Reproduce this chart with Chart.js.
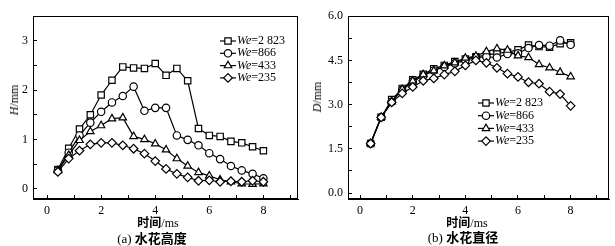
<!DOCTYPE html>
<html>
<head>
<meta charset="utf-8">
<script src="https://cdn.jsdelivr.net/npm/chart.js@4.4.1/dist/chart.umd.min.js"></script>
<style>
  body { margin: 0; background: #fff; width: 615px; height: 246px; overflow: hidden; position: relative; font-family: 'Liberation Serif', serif; }
  canvas { position: absolute; top: 0; }
  .lbl { position: absolute; font-size: 12px; color: #000; white-space: nowrap; line-height: 1; transform: translate(-50%, -50%); }
  .rot { transform: translate(-50%, -50%) rotate(-90deg); }
  .zh { font-family: 'Noto Sans CJK SC', sans-serif; font-weight: bold; }
  .cap { font-size: 13px; }
</style>
</head>
<body>
<canvas id="chartAltura" width="307" height="246" style="left:0"></canvas>
<canvas id="chartDiametro" width="308" height="246" style="left:307px"></canvas>

<div class="lbl rot" style="left:14px;top:100px"><i>H</i>/mm</div>
<div class="lbl" style="left:158px;top:222px"><span class="zh">时间</span>/ms</div>
<div class="lbl cap" style="left:152px;top:238px">(a) <span class="zh">水花高度</span></div>

<div class="lbl rot" style="left:317px;top:97px"><i>D</i>/mm</div>
<div class="lbl" style="left:467px;top:222px"><span class="zh">时间</span>/ms</div>
<div class="lbl cap" style="left:463px;top:237px">(b) <span class="zh">水花直径</span></div>

<script>
// tempos de amostragem (ms)
const tempos = [0.4, 0.8, 1.2, 1.6, 2.0, 2.4, 2.8, 3.2, 3.6, 4.0, 4.4, 4.8, 5.2, 5.6, 6.0, 6.4, 6.8, 7.2, 7.6, 8.0];
const weLabels = ['2 823', '866', '433', '235'];

// (a) altura H (mm)
const alturaWe2823 = [0.39, 0.82, 1.21, 1.50, 1.90, 2.20, 2.47, 2.45, 2.44, 2.54, 2.30, 2.44, 2.19, 1.22, 1.08, 1.06, 0.96, 0.93, 0.85, 0.77];
const alturaWe866 = [0.37, 0.73, 1.08, 1.34, 1.56, 1.75, 1.88, 2.07, 1.58, 1.64, 1.64, 1.08, 0.99, 0.88, 0.72, 0.60, 0.46, 0.37, 0.30, 0.21];
const alturaWe433 = [0.37, 0.68, 0.98, 1.16, 1.28, 1.42, 1.44, 1.06, 1.00, 0.91, 0.79, 0.61, 0.46, 0.33, 0.26, 0.18, 0.14, 0.10, 0.09, 0.10];
const alturaWe235 = [0.34, 0.61, 0.77, 0.90, 0.93, 0.93, 0.88, 0.81, 0.71, 0.56, 0.40, 0.30, 0.23, 0.16, 0.17, 0.14, 0.15, 0.14, 0.16, 0.14];

// (b) diâmetro D (mm)
const diametroWe2823 = [1.68, 2.57, 3.17, 3.55, 3.84, 4.03, 4.22, 4.33, 4.46, 4.55, 4.62, 4.68, 4.74, 4.78, 4.86, 5.02, 4.97, 4.95, 5.07, 5.10];
const diametroWe866 = [1.68, 2.57, 3.10, 3.50, 3.78, 3.98, 4.16, 4.28, 4.40, 4.50, 4.60, 4.62, 4.60, 4.72, 4.74, 4.92, 5.02, 5.00, 5.18, 5.03];
const diametroWe433 = [1.68, 2.57, 3.10, 3.52, 3.80, 4.02, 4.15, 4.32, 4.42, 4.58, 4.65, 4.80, 4.90, 4.85, 4.66, 4.60, 4.36, 4.25, 4.10, 3.95];
const diametroWe235 = [1.68, 2.57, 3.08, 3.38, 3.60, 3.81, 3.89, 4.02, 4.13, 4.33, 4.50, 4.42, 4.25, 4.05, 3.94, 3.76, 3.71, 3.44, 3.36, 2.96];

// ticks dos eixos
const tempoTicks = [0, 1, 2, 3, 4, 5, 6, 7, 8, 9];
const tempoLabels = [0, 2, 4, 6, 8];
const alturaTicks = [0, 0.5, 1, 1.5, 2, 2.5, 3, 3.5];
const alturaLabels = [0, 1, 2, 3];
const diametroTicks = [0, 0.75, 1.5, 2.25, 3, 3.75, 4.5, 5.25, 6];
const diametroLabels = [0, 1.5, 3, 4.5, 6];

const estilos = ['rect', 'circle', 'triangle', 'rectRot'];
const raios = [4.5, 3.7, 4.3, 4.3];

function montarDatasets(series) {
  return series.map((valores, i) => ({
    label: 'We=' + weLabels[i],
    data: valores.map((v, k) => ({ x: tempos[k], y: v })),
    borderColor: '#000',
    backgroundColor: '#fff',
    borderWidth: 1.2,
    pointStyle: estilos[i],
    pointRadius: raios[i],
    pointBorderWidth: 1.2,
    pointBackgroundColor: '#fff',
    pointBorderColor: '#000',
    order: 3 - i,
  }));
}

const moldura = {
  id: 'moldura',
  afterDraw(chart) {
    const a = chart.chartArea;
    const ctx = chart.ctx;
    ctx.save();
    ctx.strokeStyle = '#000';
    ctx.lineWidth = 1;
    ctx.strokeRect(Math.round(a.left) + 0.5, Math.round(a.top) + 0.5, Math.round(a.right - a.left) - 1, Math.round(a.bottom - a.top) - 1);
    ctx.restore();
  },
};

const legendaWe = {
  id: 'legendaWe',
  afterDraw(chart, args, opts) {
    const ctx = chart.ctx;
    ctx.save();
    chart.data.datasets.forEach((ds, i) => {
      const y = opts.y + i * opts.gap;
      ctx.strokeStyle = '#000';
      ctx.fillStyle = '#fff';
      ctx.lineWidth = 1.2;
      ctx.beginPath();
      ctx.moveTo(opts.x, y);
      ctx.lineTo(opts.x + 16, y);
      ctx.stroke();
      Chart.helpers.drawPoint(ctx, { pointStyle: ds.pointStyle, radius: ds.pointRadius, borderWidth: 1.2, rotation: 0 }, opts.x + 8, y);
      ctx.fillStyle = '#000';
      ctx.textBaseline = 'middle';
      ctx.textAlign = 'left';
      ctx.font = 'italic 12px "Liberation Serif"';
      ctx.fillText('We', opts.x + 17, y);
      const w = ctx.measureText('We').width;
      ctx.font = '12px "Liberation Serif"';
      ctx.fillText('=' + weLabels[i], opts.x + 17 + w, y);
    });
    ctx.restore();
  },
};

function eixo(min, max, valores, rotulos, formato, fit) {
  return {
    type: 'linear',
    min: min,
    max: max,
    afterBuildTicks: (s) => { s.ticks = valores.map((v) => ({ value: v })); },
    afterFit: fit,
    grid: { drawOnChartArea: false, color: '#000', tickLength: -4, lineWidth: 1 },
    border: { display: true, color: '#000', width: 1 },
    ticks: {
      color: '#000',
      padding: 9,
      autoSkip: false,
      maxRotation: 0,
      font: { family: 'Liberation Serif', size: 12 },
      callback: (value) => (rotulos.includes(value) ? formato(value) : ''),
    },
  };
}

function renderGrafico(id, series, cfg) {
  const ctx = document.getElementById(id);
  return new Chart(ctx, {
    type: 'line',
    data: { datasets: montarDatasets(series) },
    options: {
      responsive: false,
      animation: false,
      layout: { padding: { left: 0, right: cfg.padRight, top: cfg.padTop, bottom: 0 } },
      plugins: {
        legend: { display: false },
        tooltip: { enabled: false },
        legendaWe: cfg.legenda,
      },
      scales: {
        x: eixo(cfg.xMin, cfg.xMax, tempoTicks, tempoLabels, (v) => String(v), (s) => { s.height = 47; }),
        y: eixo(cfg.yMin, cfg.yMax, cfg.yTicks, cfg.yLabels, cfg.yFormato, (s) => { s.width = cfg.yWidth; }),
      },
    },
    plugins: [moldura, legendaWe],
  });
}

renderGrafico('chartAltura', [alturaWe2823, alturaWe866, alturaWe433, alturaWe235], {
  xMin: -0.52, xMax: 9.28, yMin: -0.21, yMax: 3.5,
  yTicks: alturaTicks, yLabels: alturaLabels, yFormato: (v) => String(v),
  yWidth: 33, padRight: 9, padTop: 8,
  legenda: { x: 220, y: 41, gap: 12.3 },
});

renderGrafico('chartDiametro', [diametroWe2823, diametroWe866, diametroWe433, diametroWe235], {
  xMin: -0.46, xMax: 9.47, yMin: -0.2, yMax: 6.0,
  yTicks: diametroTicks, yLabels: diametroLabels, yFormato: (v) => v.toFixed(1),
  yWidth: 41, padRight: 2, padTop: 11,
  legenda: { x: 171, y: 103, gap: 12.7 },
});
</script>
</body>
</html>
